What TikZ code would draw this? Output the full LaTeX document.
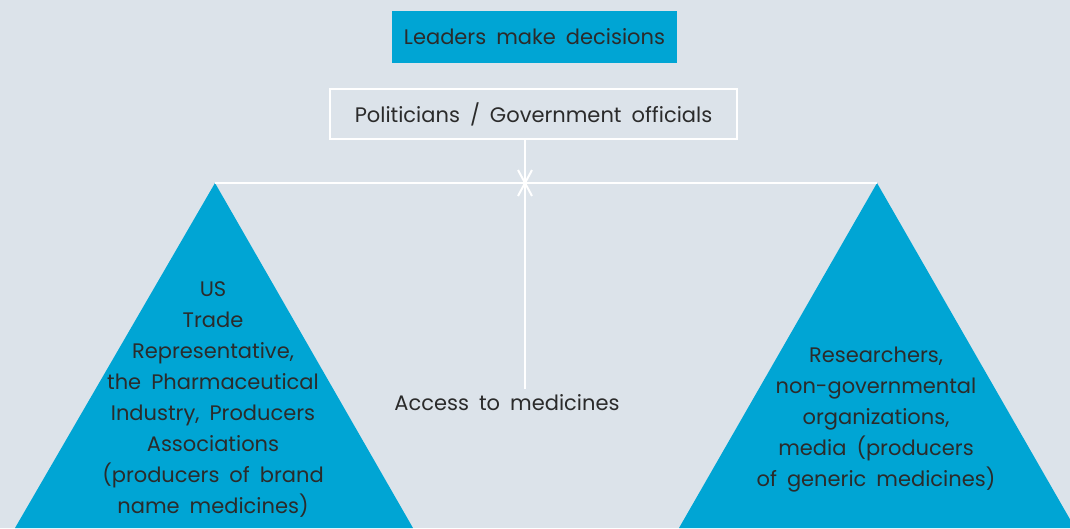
\documentclass[tikz,border=0pt]{standalone}
\usepackage{fontspec}
\setmainfont{Poppins}
\usetikzlibrary{positioning}
\definecolor{bgblue}{HTML}{DCE3EA}
\definecolor{scalecyan}{HTML}{00A5D4}
\definecolor{inkgray}{HTML}{2B2B2B}
\newcommand\wordgap{\spaceskip=10pt\relax}
\begin{document}
\begin{tikzpicture}[x=1pt, y=-1pt, text=inkgray,
    beam/.style={draw=white, line width=2.5pt},
    lbl/.style={align=center, inner sep=0pt},
    every node/.style={font=\fontsize{21}{31}\selectfont\wordgap}]
  % canvas
  \fill[bgblue] (0,0) rectangle (1070,528);
  \clip (0,0) rectangle (1070,528);
  % two pans of the scale
  \coordinate (lapex) at (215,183);
  \coordinate (rapex) at (877,183);
  \fill[scalecyan] (lapex) -- (15,528) -- (413,528) -- cycle;
  \fill[scalecyan] (rapex) -- (679,528) -- (1075,528) -- cycle;
  % heading boxes
  \node[fill=scalecyan, minimum width=285, minimum height=52, inner sep=0pt] (lead) at (534.5,37) {Leaders make decisions};
  \node[draw=white, line width=2.5pt, minimum width=407, minimum height=50, inner sep=0pt] (pol) at (533.5,114) {Politicians / Government officials};
  % beam, pivot and pole
  \draw[beam] (lapex) -- (rapex);
  \coordinate (pivot) at (525,183);
  \coordinate (poleend) at (525,389);
  \draw[beam] (pol.south -| pivot) -- (poleend);
  \draw[beam, line width=2pt] ([shift={(-7,-13)}]pivot) -- ([shift={(7,13)}]pivot);
  \draw[beam, line width=2pt] ([shift={(7,-13)}]pivot) -- ([shift={(-7,13)}]pivot);
  \node[lbl] (access) at (507,403) {Access to medicines};
  % texts on the pans
  \node[lbl, anchor=north] (brand) at (213,281) {US\\Trade\\Representative,\\the Pharmaceutical\\Industry, Producers\\Associations\\(producers of brand\\name medicines)};
  \node[lbl, anchor=north] (generic) at (876,347) {Researchers,\\non-governmental\\organizations,\\media (producers\\of generic medicines)};
\end{tikzpicture}
\end{document}
